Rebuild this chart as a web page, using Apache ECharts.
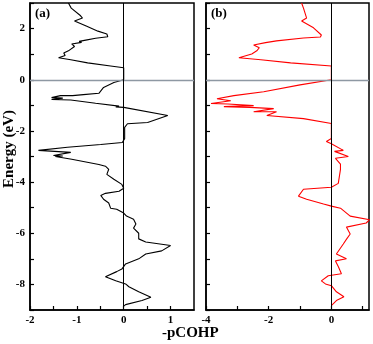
<!DOCTYPE html>
<html>
<head>
<meta charset="utf-8">
<script src="https://cdn.jsdelivr.net/npm/echarts@6/dist/echarts.min.js"></script>
<style>
  html, body { margin: 0; padding: 0; background: #fff; }
  #chart { width: 373px; height: 344px; }
</style>
</head>
<body>
<div id="chart"></div>
<script>
// panel (a): [-pCOHP, Energy]
var curveA = [
    [-1.18, 3.0], [-1.12, 2.8], [-0.92, 2.5], [-0.88, 2.41], [-1.05, 2.3], [-0.8, 2.1], [-0.55, 1.9],
    [-0.36, 1.79], [-0.34, 1.68], [-0.6, 1.62], [-0.81, 1.55], [-0.95, 1.5], [-0.9, 1.46], [-1.11, 1.4],
    [-1.05, 1.3], [-1.18, 1.13], [-1.15, 1.08], [-1.28, 1.05], [-1.25, 0.95], [-1.39, 0.86], [-1.13, 0.78],
    [-0.77, 0.66], [-0.28, 0.54], [0, 0.47], [0, 0.1], [0, 0], [-0.21, -0.11], [-0.43, -0.3], [-0.53, -0.53],
    [-0.86, -0.58], [-1.09, -0.62], [-1.35, -0.62], [-1.54, -0.7], [-1.3, -0.72], [-1.54, -0.77], [-1.13, -0.79],
    [-0.6, -0.92], [-0.1, -1.03], [-0.17, -1.06], [0, -1.08], [0.94, -1.4], [0.51, -1.67], [0.08, -1.72],
    [0.02, -1.86], [0.02, -2.3], [-0.03, -2.45], [-0.49, -2.53], [-1.2, -2.64], [-1.82, -2.76], [-1.13, -2.84],
    [-1.5, -2.96], [-1.3, -2.98], [-1.46, -3.0], [-1.11, -3.11], [-0.53, -3.31], [-0.39, -3.38], [-0.32, -3.5],
    [-0.36, -3.7], [-0.21, -3.89], [-0.04, -4.09], [0, -4.24], [-0.1, -4.36], [-0.39, -4.44], [-0.49, -4.52],
    [-0.43, -4.67], [-0.32, -4.82], [-0.28, -5.02], [-0.15, -5.06], [0, -5.21], [0.06, -5.33], [0.21, -5.45],
    [0.26, -5.64], [0.21, -5.8], [0.32, -6.0], [0.32, -6.22], [0.47, -6.34], [1.0, -6.48], [0.81, -6.69],
    [0.47, -6.81], [0.32, -7.0], [0.04, -7.2], [-0.04, -7.4], [-0.15, -7.5], [-0.39, -7.7], [-0.17, -7.86],
    [0.04, -7.98], [0.11, -8.09], [0.32, -8.29], [0.58, -8.5], [0.39, -8.63], [0.04, -8.79], [0, -8.85]
];
// panel (b)
var curveB = [
    [-0.95, 3.0], [-0.89, 2.8], [-0.79, 2.41], [-0.95, 2.3], [-0.57, 2.03], [-0.32, 1.75], [-0.35, 1.67],
    [-0.89, 1.63], [-1.75, 1.52], [-2.1, 1.45], [-2.48, 1.36], [-2.3, 1.25], [-2.38, 1.13], [-2.54, 1.01],
    [-2.95, 0.86], [-2.25, 0.78], [-1.3, 0.66], [0, 0.54], [0, 0], [-1.0, -0.2], [-2.16, -0.47], [-3.11, -0.62],
    [-3.65, -0.74], [-3.21, -0.82], [-3.84, -0.93], [-3.3, -0.95], [-2.48, -1.01], [-3.43, -1.05], [-2.6, -1.08],
    [-1.84, -1.13], [-2.48, -1.25], [-1.75, -1.25], [-2.06, -1.4], [-0.89, -1.52], [0, -1.71], [0, -2.3],
    [-0.16, -2.41], [0, -2.5], [0.38, -2.76], [0.1, -2.8], [0.54, -3.0], [0.13, -3.07], [0.16, -3.11],
    [0.29, -3.3], [0.29, -3.5], [0.22, -4.05], [0, -4.2], [-0.89, -4.28], [-1.05, -4.55], [-0.79, -4.67],
    [-0.25, -4.86], [0, -4.94], [0.29, -5.02], [0.6, -5.33], [1.22, -5.47], [1.11, -5.6], [0.48, -5.76],
    [0.6, -6.03], [0.5, -6.2], [0.38, -6.42], [0.16, -6.81], [0.48, -7.0], [0.13, -7.08], [0.22, -7.3],
    [0.32, -7.58], [-0.1, -7.66], [-0.32, -7.86], [-0.19, -7.98], [0, -8.05], [0.16, -8.29], [0.4, -8.48],
    [0.16, -8.63], [0, -8.83]
];
var energyRange = [-9, 3];
var xRangeA = [-2, 1.5];
var xRangeB = [-4, 1.2];

var serif = '"Liberation Serif", "DejaVu Serif", serif';
var chart = echarts.init(document.getElementById('chart'));

function xAxisOf(idx, range, step, labelStep) {
    return {
        type: 'value', gridIndex: idx, min: range[0], max: range[1], interval: step,
        axisLine: { show: true, onZero: false, lineStyle: { color: '#000', width: 1.5 } },
        axisTick: { show: true, inside: true, length: 4, lineStyle: { color: '#000', width: 1.2 } },
        splitLine: { show: false },
        axisLabel: {
            color: '#000', fontFamily: serif, fontWeight: 'bold', fontSize: 11, margin: 5,
            showMaxLabel: false,
            formatter: function (v) {
                var r = Math.round(v / labelStep);
                return Math.abs(v - r * labelStep) < 1e-6 ? String(Math.round(v)) : '';
            }
        }
    };
}
function yAxisOf(idx, showLabel) {
    return {
        type: 'value', gridIndex: idx, min: energyRange[0], max: energyRange[1], interval: 1,
        axisLine: { show: true, onZero: false, lineStyle: { color: '#000', width: 1.5 } },
        axisTick: { show: true, inside: true, length: 4, lineStyle: { color: '#000', width: 1.2 } },
        splitLine: { show: false },
        axisLabel: {
            show: showLabel, color: '#000', fontFamily: serif, fontWeight: 'bold', fontSize: 11, margin: 5,
            formatter: function (v) { return v % 2 === 0 ? String(v) : ''; }
        }
    };
}
function zeroLines() {
    return {
        silent: true, symbol: 'none', label: { show: false }, animation: false,
        data: [
            { yAxis: 0, lineStyle: { color: '#8e98a3', width: 1.3, type: 'solid' } },
            { xAxis: 0, lineStyle: { color: '#000', width: 1, type: 'solid' } }
        ]
    };
}

var option = {
    backgroundColor: '#fff',
    animation: false,
    grid: [
        { left: 30, right: 179, top: 3, bottom: 34, containLabel: false, show: true, borderColor: '#000', borderWidth: 1.5 },
        { left: 206, right: 4, top: 3, bottom: 34, containLabel: false, show: true, borderColor: '#000', borderWidth: 1.5 }
    ],
    xAxis: [xAxisOf(0, xRangeA, 0.5, 1), xAxisOf(1, xRangeB, 1, 2)],
    yAxis: [yAxisOf(0, true), yAxisOf(1, false)],
    graphic: [
        { type: 'text', left: 35, top: 7, style: { text: '(a)', font: 'bold 13px ' + serif, fill: '#000' } },
        { type: 'text', left: 211, top: 7, style: { text: '(b)', font: 'bold 13px ' + serif, fill: '#000' } },
        { type: 'text', left: 162, top: 326, style: { text: '-pCOHP', font: 'bold 15px ' + serif, fill: '#000' } },
        {
            type: 'text', x: 9, y: 149, rotation: Math.PI / 2,
            style: { text: 'Energy (eV)', font: 'bold 15px ' + serif, fill: '#000', align: 'center', verticalAlign: 'middle' }
        }
    ],
    series: [
        {
            type: 'line', xAxisIndex: 0, yAxisIndex: 0, data: curveA, symbol: 'none',
            lineStyle: { color: '#000', width: 1.1 }, markLine: zeroLines()
        },
        {
            type: 'line', xAxisIndex: 1, yAxisIndex: 1, data: curveB, symbol: 'none',
            lineStyle: { color: '#ff0000', width: 1.1 }, markLine: zeroLines()
        }
    ]
};
chart.setOption(option);
</script>
</body>
</html>
